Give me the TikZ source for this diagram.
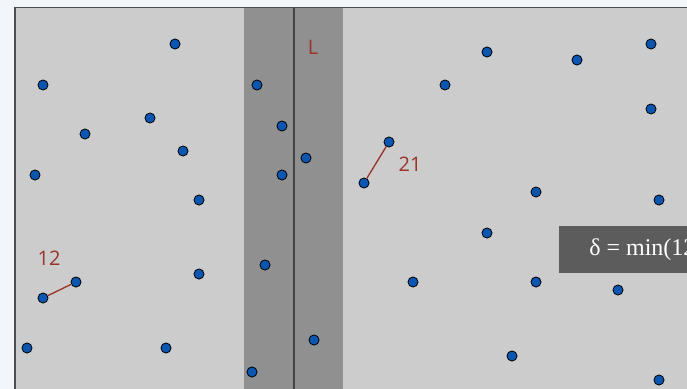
\documentclass[tikz,border=0pt]{standalone}
\usepackage{fontspec}
\setmainfont{Liberation Serif}
\newfontfamily\labelfont{Open Sans}
\usetikzlibrary{positioning}
\definecolor{page}{HTML}{F2F6FA}
\definecolor{plane}{HTML}{CCCCCC}
\definecolor{stripgray}{HTML}{909090}
\definecolor{divider}{HTML}{454545}
\definecolor{pairred}{HTML}{9A3328}
\definecolor{dotblue}{HTML}{0A56B0}
\definecolor{boxgray}{HTML}{5C5C5C}
\tikzset{
  pt/.style={circle,draw=black,fill=dotblue,inner sep=0pt,minimum size=7.6pt,line width=0.6pt},
  pairline/.style={draw=pairred,line width=1pt},
  numlabel/.style={font=\labelfont\fontsize{15}{15}\selectfont,text=pairred},
}

\begin{document}
\begin{tikzpicture}[x=0.75pt,y=-0.75pt]
  \useasboundingbox (0,0) rectangle (687,389);
  \clip (0,0) rectangle (687,389);
  % page and plane
  \fill[page] (0,0) rectangle (687,389);
  \draw[draw=black!70,line width=1pt,fill=plane] (15,7.5) rectangle (700,400);
  % strip around the dividing line
  \fill[stripgray] (244,8) rectangle (343,400);
  \draw[divider,line width=1.4pt] (294,8) -- (294,400);
  \node[numlabel] (lbl) at (313,47) {L};
  % points, left half
  \foreach \name/\px/\py in {a1/175/44,a2/43/85,a3/85/134,a4/150/118,a5/183/151,
      a6/35/175,a7/199/200,a8/199/274,a9/76/282,a10/43/298,a11/27/348,a12/166/348}
    \node[pt] (\name) at (\px,\py) {};
  % points in the strip
  \foreach \name/\px/\py in {s1/257/85,s2/282/126,s3/306/158,s4/282/175,
      s5/265/265,s6/314/340,s7/252/372}
    \node[pt] (\name) at (\px,\py) {};
  % points, right half
  \foreach \name/\px/\py in {b1/487/52,b2/445/85,b3/577/60,b4/651/44,b5/651/109,
      b6/389/142,b7/364/183,b8/536/192,b9/659/200,b10/487/233,b11/413/282,
      b12/536/282,b13/618/290,b14/512/356,b15/659/380}
    \node[pt] (\name) at (\px,\py) {};
  % closest pairs
  \draw[pairline] (a10) -- (a9);
  \draw[pairline] (b7) -- (b6);
  \node[numlabel] (d12) at (49,258) {12};
  \node[numlabel] (d21) at (410,164) {21};
  % result box
  \fill[boxgray] (559,226) rectangle (700,273);
  \node[anchor=west,text=white,font=\fontsize{18}{18}\selectfont,inner sep=0pt]
    (delta) at (589,250) {δ = min(12};
\end{tikzpicture}
\end{document}
